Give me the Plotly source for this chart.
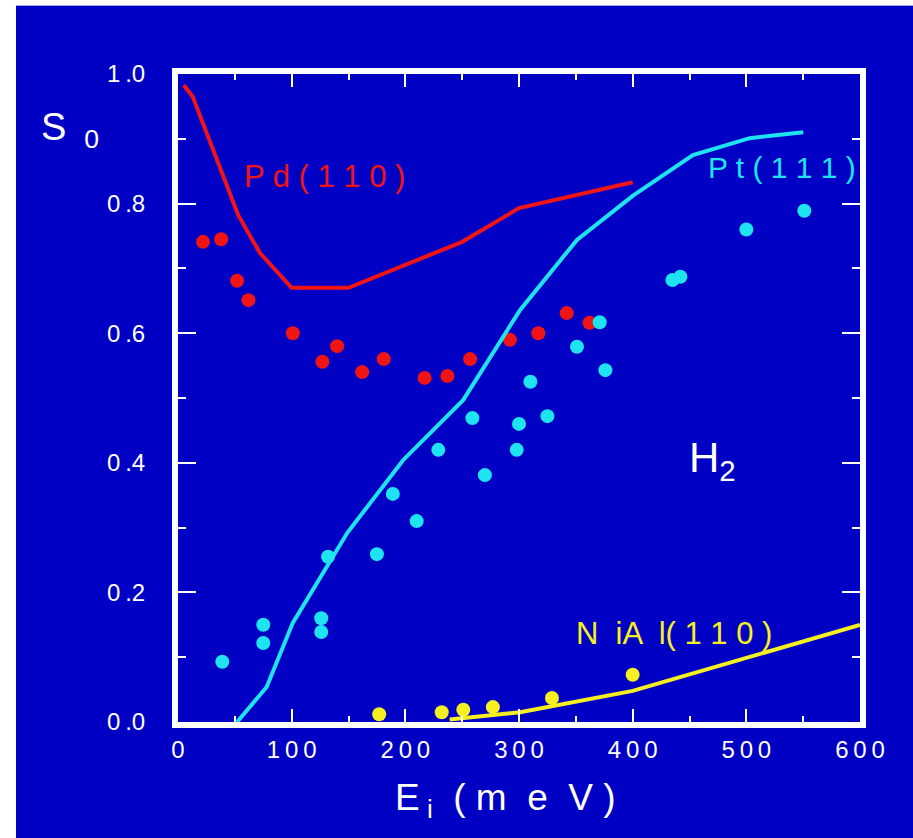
import plotly.graph_objects as go

# H2 sticking coefficient S0 versus incident energy Ei (meV)

# Pd(110): model curve and measurements
pd_line_x = [5, 13, 53, 72, 100, 150, 250, 300, 400]
pd_line_y = [0.983, 0.965, 0.782, 0.724, 0.670, 0.670, 0.741, 0.793, 0.833]
pd_pts_x = [22, 38, 52, 62, 101, 127, 140, 162, 181, 217, 237, 257, 292, 317, 342, 362]
pd_pts_y = [0.741, 0.745, 0.681, 0.651, 0.600, 0.556, 0.580, 0.540, 0.560,
            0.531, 0.534, 0.560, 0.590, 0.600, 0.631, 0.616]

# Pt(111): model curve and measurements
pt_line_x = [52, 78, 101, 149, 198, 251, 301, 351, 400, 453, 503, 550]
pt_line_y = [0.0, 0.054, 0.153, 0.292, 0.404, 0.497, 0.636, 0.744, 0.812, 0.875, 0.901, 0.910]
pt_pts_x = [39, 75, 75, 126, 126, 132, 175, 189, 210, 229, 259, 270, 298, 300,
            310, 325, 351, 371, 376, 435, 442, 500, 551]
pt_pts_y = [0.093, 0.150, 0.122, 0.160, 0.139, 0.255, 0.259, 0.352, 0.310, 0.420,
            0.469, 0.381, 0.420, 0.460, 0.525, 0.472, 0.579, 0.617, 0.543, 0.682,
            0.687, 0.760, 0.789]

# NiAl(110): model curve and measurements
nial_line_x = [239, 301, 400, 600]
nial_line_y = [0.004, 0.015, 0.048, 0.150]
nial_pts_x = [177, 232, 251, 277, 329, 400]
nial_pts_y = [0.012, 0.015, 0.019, 0.023, 0.037, 0.073]

TS = "\u2009"  # thin space between characters of tick labels
x_tick_vals = [0, 100, 200, 300, 400, 500, 600]
x_tick_text = ["0"] + [TS.join(str(v)) for v in x_tick_vals[1:]]
y_tick_vals = [0.0, 0.2, 0.4, 0.6, 0.8, 1.0]
y_tick_text = [f"{v:.1f}".replace(".", TS + ".") for v in y_tick_vals]

BG = "#0000c4"
RED = "#f01414"
CYAN = "#1ee4f2"
YELLOW = "#f6f020"
FONT = "Liberation Sans"

W, H = 913, 838
L, R, T, B = 178, 53, 74, 116
PW, PH = W - L - R, H - T - B


def px_x(p):
    return (p - L) / PW


def px_y(p):
    return (H - B - p) / PH


fig = go.Figure()

for lx, ly, sx, sy, col in [
    (pd_line_x, pd_line_y, pd_pts_x, pd_pts_y, RED),
    (pt_line_x, pt_line_y, pt_pts_x, pt_pts_y, CYAN),
    (nial_line_x, nial_line_y, nial_pts_x, nial_pts_y, YELLOW),
]:
    fig.add_trace(go.Scatter(x=lx, y=ly, mode="lines",
                             line=dict(color=col, width=4), showlegend=False))
    fig.add_trace(go.Scatter(x=sx, y=sy, mode="markers",
                             marker=dict(color=col, size=14, line=dict(width=0)),
                             showlegend=False, cliponaxis=False))

axis_common = dict(
    showgrid=False, zeroline=False, showline=True, linecolor="white",
    linewidth=6, mirror="allticks", ticks="inside", tickcolor="white",
    tickwidth=2,
)

fig.update_xaxes(
    range=[0, 600], tickmode="array", tickvals=x_tick_vals, ticktext=x_tick_text,
    ticklen=13, ticklabelstandoff=1,
    tickfont=dict(family=FONT, size=24, color="white"),
    minor=dict(ticks="inside", dtick=50, tick0=0, ticklen=6, tickwidth=2,
               tickcolor="white"),
    **axis_common,
)
fig.update_yaxes(
    range=[0, 1.0], tickmode="array", tickvals=y_tick_vals, ticktext=y_tick_text,
    ticklen=18, ticklabelstandoff=22,
    tickfont=dict(family=FONT, size=24, color="white"),
    minor=dict(ticks="inside", dtick=0.1, tick0=0, ticklen=8, tickwidth=2,
               tickcolor="white"),
    **axis_common,
)

annotations = [
    dict(x=129, y=0.842, xref="x", yref="y", text="P d ( 1 1 0 )",
         font=dict(family=FONT, size=31, color=RED)),
    dict(x=531, y=0.856, xref="x", yref="y", text="P t ( 1 1 1 )",
         font=dict(family=FONT, size=30, color=CYAN)),
    dict(x=436, y=0.137, xref="x", yref="y", text="N  iA  l( 1 1 0 )",
         font=dict(family=FONT, size=31, color=YELLOW)),
    dict(x=470, y=0.404, xref="x", yref="y", text="H<sub>2</sub>",
         font=dict(family=FONT, size=42, color="white")),
    dict(x=px_x(70), y=px_y(130), xref="paper", yref="paper",
         text="S <sub> 0</sub>",
         font=dict(family=FONT, size=38, color="white")),
    dict(x=px_x(505), y=px_y(800), xref="paper", yref="paper",
         text="E<sub> i</sub>  ( m  e  V )",
         font=dict(family=FONT, size=37, color="white")),
]
for a in annotations:
    a.update(showarrow=False, xanchor="center", yanchor="middle")

shapes = [
    # blue panel behind everything, white strips on the left and top
    dict(type="rect", xref="paper", yref="paper", layer="below",
         x0=px_x(16), x1=px_x(W), y0=px_y(H), y1=px_y(5),
         fillcolor=BG, line=dict(width=0)),
    dict(type="line", xref="paper", yref="paper", layer="below",
         x0=px_x(16), x1=px_x(W), y0=px_y(5.5), y1=px_y(5.5),
         line=dict(color="#9aa6f0", width=1)),
]

fig.update_layout(
    width=W, height=H,
    margin=dict(l=L, r=R, t=T, b=B, pad=0),
    paper_bgcolor="white", plot_bgcolor=BG,
    annotations=annotations, shapes=shapes,
    showlegend=False,
)

fig.write_html("out.html")
